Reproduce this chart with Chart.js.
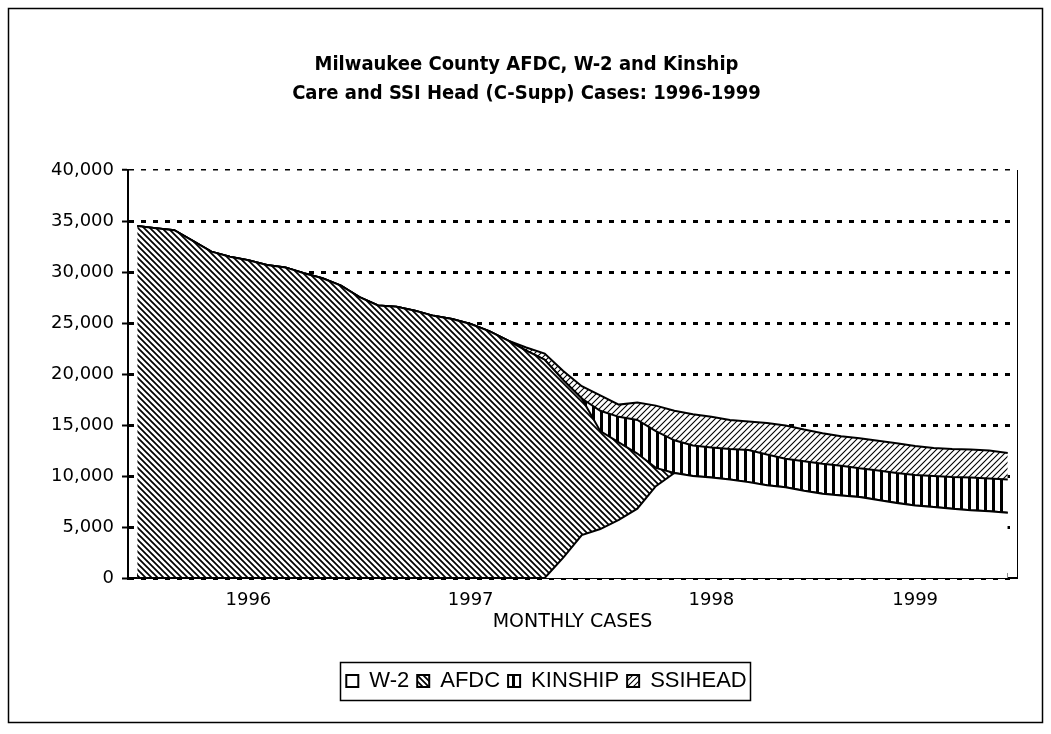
<!DOCTYPE html>
<html>
<head>
<meta charset="utf-8">
<script src="https://cdn.jsdelivr.net/npm/chart.js@4.4.0/dist/chart.umd.min.js"></script>
<style>
  html, body { margin: 0; padding: 0; background: #fff; }
  #wrap { width: 1051px; height: 734px; }
</style>
</head>
<body>
<div id="wrap"><canvas id="chart" width="1051" height="734"></canvas></div>
<script>
// monthly points, Jul 1995 .. Jun 1999
const months = [
  'Jul 95','Aug 95','Sep 95','Oct 95','Nov 95','Dec 95',
  'Jan 96','Feb 96','Mar 96','Apr 96','May 96','Jun 96','Jul 96','Aug 96','Sep 96','Oct 96','Nov 96','Dec 96',
  'Jan 97','Feb 97','Mar 97','Apr 97','May 97','Jun 97','Jul 97','Aug 97','Sep 97','Oct 97','Nov 97','Dec 97',
  'Jan 98','Feb 98','Mar 98','Apr 98','May 98','Jun 98','Jul 98','Aug 98','Sep 98','Oct 98','Nov 98','Dec 98',
  'Jan 99','Feb 99','Mar 99','Apr 99','May 99','Jun 99'
];
// year labels and the month index they sit under
const yearLabels = ['1996', '1997', '1998', '1999'];
const yearTickIdx = [6, 18, 31, 42];

const w2 = [
  0, 0, 0, 0, 0, 0, 0, 0, 0, 0, 0, 0, 0, 0, 0, 0, 0, 0, 0, 0, 0, 0, 0,
  2000, 4200, 4800, 5700, 6800, 9000, 10300, 10000, 9850, 9650, 9400, 9100, 8900,
  8550, 8250, 8100, 7950, 7650, 7350, 7100, 6950, 6800, 6650, 6550, 6400
];
const afdc = [
  34500, 34300, 34100, 33050, 32000, 31500, 31150, 30680, 30450, 29870, 29380, 28670,
  27530, 26720, 26600, 26200, 25700, 25400, 24900, 24200, 23300, 22300, 21400, 17400,
  13400, 9600, 7600, 5400, 1800,
  0, 0, 0, 0, 0, 0, 0, 0, 0, 0, 0, 0, 0, 0, 0, 0, 0, 0, 0
];
const kinship = [
  0, 0, 0, 0, 0, 0, 0, 0, 0, 0, 0, 0, 0, 0, 0, 0, 0, 0, 0, 0, 0, 0, 0, 0, 0,
  2000, 2500, 3300, 3600, 3200, 3000, 2950, 3000, 3150, 3000, 2800, 2900, 2950,
  2900, 2800, 2900, 2950, 3000, 3050, 3100, 3200, 3200, 3250
];
const ssihead = [
  0, 0, 0, 0, 0, 0, 0, 0, 0, 0, 0, 0, 0, 0, 0, 0, 0, 0, 0, 0, 0,
  300, 600, 900, 1200, 1500, 1200, 1700, 2500, 2900, 3050, 3000, 2850, 2800, 3100,
  3250, 3100, 3000, 2900, 2950, 2900, 2900, 2850, 2750, 2750, 2750, 2750, 2600
];

const titleLines = ['Milwaukee County AFDC, W-2 and Kinship', 'Care and SSI Head (C-Supp) Cases: 1996-1999'];

// hatch fills like the old Excel b/w patterns
function makePattern(size, draw) {
  const c = document.createElement('canvas');
  c.width = size; c.height = size;
  const g = c.getContext('2d');
  g.fillStyle = '#fff';
  g.fillRect(0, 0, size, size);
  g.strokeStyle = '#000';
  g.fillStyle = '#000';
  draw(g, size);
  return g.createPattern(c, 'repeat');
}
const backSlash = makePattern(6, (g, s) => {
  g.lineWidth = 1.7;
  g.beginPath();
  g.moveTo(-1, -1); g.lineTo(s + 1, s + 1);
  g.moveTo(s - 1, -1); g.lineTo(s + 1, 1);
  g.moveTo(-1, s - 1); g.lineTo(1, s + 1);
  g.stroke();
});
const fwdSlash = makePattern(6, (g, s) => {
  g.lineWidth = 1.1;
  g.beginPath();
  g.moveTo(-1, s + 1); g.lineTo(s + 1, -1);
  g.moveTo(-1, 1); g.lineTo(1, -1);
  g.moveTo(s - 1, s + 1); g.lineTo(s + 1, s - 1);
  g.stroke();
});
const vStripes = makePattern(8, (g, s) => {
  g.fillRect(0, 0, 3, s);
});

const framePlugin = {
  id: 'frame',
  beforeDraw(chart) {
    const ctx = chart.ctx;
    ctx.save();
    ctx.fillStyle = '#fff';
    ctx.fillRect(0, 0, chart.width, chart.height);
    ctx.restore();
  },
  afterLayout(chart) {
    const lg = chart.legend;
    lg.left += 20; lg.right += 20;
  },
  afterDraw(chart) {
    const {ctx, chartArea, legend} = chart;
    ctx.save();
    ctx.strokeStyle = '#000';
    ctx.lineWidth = 1.5;
    ctx.strokeRect(8.5, 8.5, 1034, 714);
    ctx.lineWidth = 1;
    ctx.beginPath();
    ctx.moveTo(chartArea.right + 0.5, chartArea.top);
    ctx.lineTo(chartArea.right + 0.5, chartArea.bottom);
    ctx.stroke();
    const hb = legend.legendHitBoxes;
    if (hb && hb.length) {
      const l = Math.min(...hb.map(b => b.left)) - 6;
      const r = Math.max(...hb.map(b => b.left + b.width)) + 4;
      const t = Math.min(...hb.map(b => b.top)) - 8;
      const b = Math.max(...hb.map(b => b.top + b.height)) + 8;
      ctx.lineWidth = 1.5;
      ctx.strokeRect(Math.round(l) + 0.5, Math.round(t) + 0.5, Math.round(r - l), Math.round(b - t));
    }
    ctx.restore();
  }
};

const ctx = document.getElementById('chart').getContext('2d');
new Chart(ctx, {
  type: 'line',
  data: {
    labels: months,
    datasets: [
      { label: 'W-2', data: w2, backgroundColor: '#fff', fill: 'origin' },
      { label: 'AFDC', data: afdc, backgroundColor: backSlash, fill: '-1' },
      { label: 'KINSHIP', data: kinship, backgroundColor: vStripes, fill: '-1' },
      { label: 'SSIHEAD', data: ssihead, backgroundColor: fwdSlash, fill: '-1' }
    ].map(d => Object.assign(d, { borderColor: '#000', borderWidth: 2, pointRadius: 0, tension: 0 }))
  },
  options: {
    responsive: false,
    animation: false,
    layout: { padding: { left: 36, right: 34, top: 0, bottom: 32 } },
    plugins: {
      title: {
        display: true,
        text: titleLines,
        color: '#000',
        font: { family: "'Liberation Sans Narrow', 'DejaVu Sans Condensed', sans-serif", size: 20, weight: 'bold', lineHeight: 1.45 },
        padding: { top: 50, bottom: 62 }
      },
      legend: {
        position: 'bottom',
        labels: {
          color: '#000',
          font: { family: "'Liberation Sans', Arial, sans-serif", size: 22 },
          boxWidth: 12, boxHeight: 12, padding: 8
        }
      },
      tooltip: { enabled: false }
    },
    scales: {
      x: {
        type: 'category',
        offset: true,
        z: 1,
        afterFit: s => { s.height = 84; },
        grid: { drawOnChartArea: false, offset: false, color: '#000', tickLength: -5, lineWidth: 1 },
        border: { color: '#000', width: 2 },
        ticks: {
          autoSkip: false, maxRotation: 0, color: '#000', padding: 17,
          font: { family: "'DejaVu Sans', sans-serif", size: 18 },
          callback: (v, i) => {
            const k = yearTickIdx.indexOf(i);
            return k >= 0 ? yearLabels[k] : '';
          }
        },
        title: {
          display: true, text: 'MONTHLY CASES', color: '#000',
          font: { family: "'DejaVu Sans', sans-serif", size: 19 },
          padding: { top: 0, bottom: 29 }
        }
      },
      y: {
        stacked: true,
        min: 0, max: 40000,
        afterFit: s => { s.width = 92; },
        grid: {
          color: '#000',
          lineWidth: c => (c.tick && c.tick.value === 40000 ? 1.5 : 3),
          tickColor: '#000', tickWidth: 2, tickLength: 6
        },
        border: { display: true, color: '#000', width: 2, dash: [5, 7] },
        ticks: {
          stepSize: 5000, color: '#000', padding: 8,
          font: { family: "'DejaVu Sans', sans-serif", size: 18 },
          callback: v => v.toLocaleString('en-US')
        }
      }
    }
  },
  plugins: [framePlugin]
});
</script>
</body>
</html>
